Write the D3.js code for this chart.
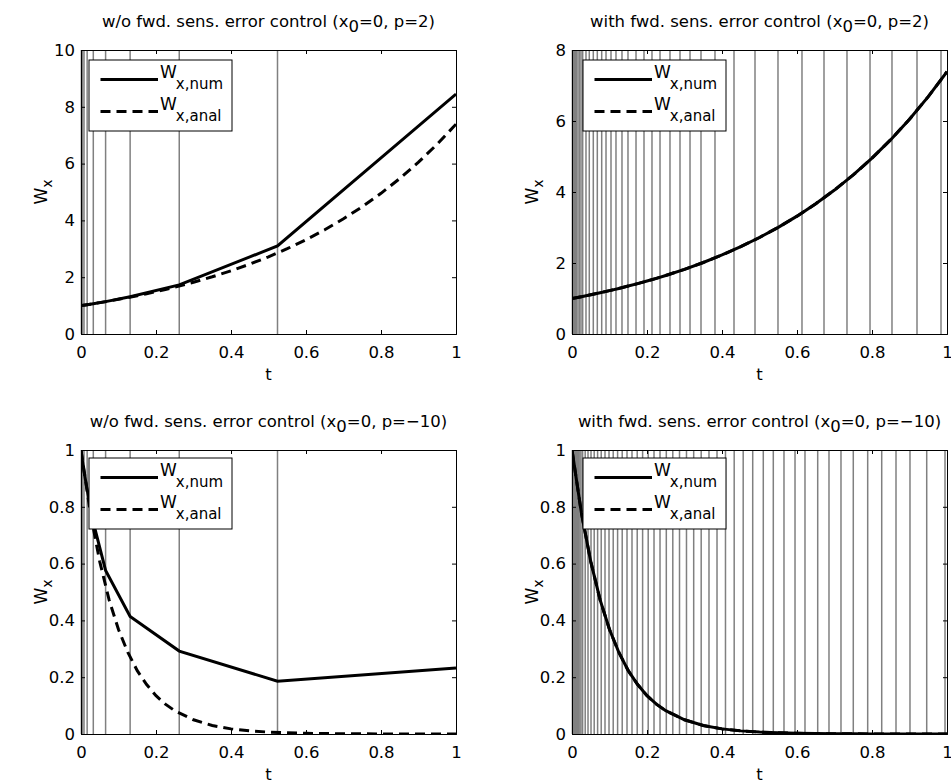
<!DOCTYPE html>
<html>
<head>
<meta charset="utf-8">
<script src="https://cdn.jsdelivr.net/npm/d3@7"></script>
<style>
  body { margin: 0; background: #fff; }
  text { font-family: "DejaVu Sans", "Liberation Sans", Arial, sans-serif; fill: #000; }
</style>
</head>
<body>
<div id="chart"></div>
<script>
// ---- data ----
var xTicks = [0, 0.2, 0.4, 0.6, 0.8, 1];
var yTicksTop1 = [0, 2, 4, 6, 8, 10];
var yTicksTop2 = [0, 2, 4, 6, 8];
var yTicksBottom = [0, 0.2, 0.4, 0.6, 0.8, 1];

// step times without error control (same for p=2 and p=-10)
var stepsCoarse = [0.001, 0.002, 0.004, 0.008, 0.0164, 0.0328, 0.0656, 0.131, 0.262, 0.524];
// numerical solution at those steps
var tNumCoarse = [0, 0.002, 0.004, 0.008, 0.0164, 0.0328, 0.0656, 0.131, 0.262, 0.524, 1];
var wNumP2 = [1, 1.004, 1.008, 1.016, 1.033, 1.068, 1.14, 1.31, 1.73, 3.1, 8.45];
var wNumM10 = [1, 0.98, 0.96, 0.925, 0.86, 0.745, 0.576, 0.414, 0.292, 0.186, 0.232];

// analytical solution samples
var tAnal = [0, 0.025, 0.05, 0.075, 0.1, 0.125, 0.15, 0.175, 0.2, 0.225, 0.25, 0.3, 0.35, 0.4, 0.45,
             0.5, 0.55, 0.6, 0.65, 0.7, 0.75, 0.8, 0.85, 0.9, 0.95, 1];
var wAnalP2 = [1, 1.051, 1.105, 1.162, 1.221, 1.284, 1.350, 1.419, 1.492, 1.568, 1.649, 1.822, 2.014, 2.226, 2.460,
               2.718, 3.004, 3.320, 3.669, 4.055, 4.482, 4.953, 5.474, 6.050, 6.686, 7.389];
var wAnalM10 = [1, 0.779, 0.607, 0.472, 0.368, 0.287, 0.223, 0.174, 0.135, 0.105, 0.082, 0.050, 0.030, 0.018, 0.011,
                0.0067, 0.0041, 0.0025, 0.0015, 0.0009, 0.0006, 0.0003, 0.0002, 0.0001, 0.0001, 0.00005];

// step times with error control
var stepsFineP2 = [0.001, 0.002, 0.004, 0.006, 0.009, 0.012, 0.016, 0.02, 0.024,
                   0.0285, 0.0373, 0.0461, 0.0568, 0.0675, 0.0792, 0.0907, 0.104, 0.1173, 0.1333,
                   0.1493, 0.1707, 0.192, 0.2133, 0.2347, 0.2613, 0.288, 0.3147, 0.344, 0.3813,
                   0.432, 0.488, 0.5493, 0.6133, 0.672, 0.7333, 0.7947, 0.8533, 0.92, 0.984];
var stepsFineM10 = [0.001, 0.002, 0.003, 0.004, 0.006, 0.008, 0.01, 0.012, 0.015, 0.018, 0.021, 0.024,
                    0.0283, 0.0352, 0.0427, 0.0507, 0.0592, 0.0683, 0.0779, 0.088, 0.0987, 0.1099,
                    0.1216, 0.1339, 0.1467, 0.16, 0.1739, 0.1883, 0.2032, 0.2187, 0.2347, 0.2515,
                    0.2688, 0.2867, 0.3053, 0.3245, 0.3445, 0.3653, 0.3867, 0.4093, 0.4325, 0.4565,
                    0.4819, 0.5101, 0.5368, 0.5653, 0.5947, 0.6213, 0.6552, 0.6853, 0.7173, 0.7501,
                    0.7885, 0.8259, 0.864, 0.9013, 0.9459, 0.9947];

var titles = [
  {pre: "w/o fwd. sens. error control (x", post: "=0, p=2)"},
  {pre: "with fwd. sens. error control (x", post: "=0, p=2)"},
  {pre: "w/o fwd. sens. error control (x", post: "=0, p=\u221210)"},
  {pre: "with fwd. sens. error control (x", post: "=0, p=\u221210)"}
];

var W = 951, H = 783;
var svg = d3.select("#chart").append("svg")
    .attr("width", W)
    .attr("height", H);

var panels = [
  {left: 81, top: 50, title: titles[0], yMax: 10, yTicks: yTicksTop1, steps: stepsCoarse,
   tNum: tNumCoarse, wNum: wNumP2, wAnal: wAnalP2},
  {left: 572, top: 50, title: titles[1], yMax: 8, yTicks: yTicksTop2, steps: stepsFineP2,
   tNum: tAnal, wNum: wAnalP2, wAnal: wAnalP2},
  {left: 81, top: 450, title: titles[2], yMax: 1, yTicks: yTicksBottom, steps: stepsCoarse,
   tNum: tNumCoarse, wNum: wNumM10, wAnal: wAnalM10},
  {left: 572, top: 450, title: titles[3], yMax: 1, yTicks: yTicksBottom, steps: stepsFineM10,
   tNum: tAnal, wNum: wAnalM10, wAnal: wAnalM10}
];

var pw = 375, ph = 284;

panels.forEach(function(p, i) {
    var g = svg.append("g").attr("transform", "translate(" + p.left + "," + p.top + ")");
    var x = d3.scaleLinear().domain([0, 1]).range([0, pw]);
    var y = d3.scaleLinear().domain([0, p.yMax]).range([ph, 0]);

    g.append("clipPath").attr("id", "clip" + i)
        .append("rect").attr("width", pw).attr("height", ph);

    // step lines
    g.selectAll(".step")
        .data(p.steps)
        .enter().append("line")
        .attr("class", "step")
        .attr("x1", d => x(d)).attr("x2", d => x(d))
        .attr("y1", 0).attr("y2", ph)
        .attr("stroke", "#808080")
        .attr("stroke-width", 1.5);

    var line = d3.line()
        .x(d => x(d[0]))
        .y(d => y(d[1]));

    var plot = g.append("g").attr("clip-path", "url(#clip" + i + ")");
    plot.append("path")
        .datum(p.tNum.map((t, k) => [t, p.wNum[k]]))
        .attr("d", line)
        .attr("fill", "none")
        .attr("stroke", "#000")
        .attr("stroke-width", 3);
    plot.append("path")
        .datum(tAnal.map((t, k) => [t, p.wAnal[k]]))
        .attr("d", line)
        .attr("fill", "none")
        .attr("stroke", "#000")
        .attr("stroke-width", 3)
        .attr("stroke-dasharray", "10,6");

    // axes, ticks inside (matlab style)
    var xb = g.append("g").attr("transform", "translate(0," + ph + ")")
        .call(d3.axisBottom(x).tickValues(xTicks).tickSize(-4).tickPadding(12).tickFormat(d3.format("")));
    var xt = g.append("g")
        .call(d3.axisTop(x).tickValues(xTicks).tickSize(-4).tickFormat(""));
    var yl = g.append("g")
        .call(d3.axisLeft(y).tickValues(p.yTicks).tickSize(-4).tickPadding(6).tickFormat(d3.format("")));
    var yr = g.append("g").attr("transform", "translate(" + pw + ",0)")
        .call(d3.axisRight(y).tickValues(p.yTicks).tickSize(-4).tickFormat(""));
    [xb, xt, yl, yr].forEach(function(a) {
        a.select(".domain").attr("stroke", "#000").attr("stroke-width", 1);
        a.selectAll(".tick line").attr("stroke", "#000");
        a.selectAll(".tick text").style("font-size", "16.5px").attr("fill", "#000")
            .style("font-family", "DejaVu Sans, Liberation Sans, Arial, sans-serif");
    });

    // title
    var tt = g.append("text")
        .attr("x", pw / 2).attr("y", -23)
        .attr("text-anchor", "middle")
        .style("font-size", "16.5px");
    tt.append("tspan").text(p.title.pre);
    tt.append("tspan").attr("dy", 5).text("0");
    tt.append("tspan").attr("dy", -5).text(p.title.post);

    // axis labels
    g.append("text")
        .attr("x", pw / 2).attr("y", ph + 46)
        .attr("text-anchor", "middle")
        .style("font-size", "16.5px")
        .text("t");
    var yt = g.append("text")
        .attr("transform", "translate(-34," + (ph / 2) + ") rotate(-90)")
        .attr("text-anchor", "middle")
        .style("font-size", "17px");
    yt.append("tspan").text("W");
    yt.append("tspan").attr("dy", 5).style("font-size", "14px").text("x");

    // legend
    var lx = (i % 2 == 0) ? 8 : 11, ly = (i < 2) ? 10 : 8;
    var leg = g.append("g").attr("transform", "translate(" + lx + "," + ly + ")");
    leg.append("rect")
        .attr("width", 143).attr("height", 71)
        .attr("fill", "#fff").attr("stroke", "#000").attr("stroke-width", 1);
    var entries = [{name: "x,num", dash: null}, {name: "x,anal", dash: "10,6"}];
    entries.forEach(function(e, k) {
        var cy = 19.5 + k * 32;
        leg.append("line")
            .attr("x1", 11.5).attr("x2", 69)
            .attr("y1", cy).attr("y2", cy)
            .attr("stroke", "#000").attr("stroke-width", 3)
            .attr("stroke-dasharray", e.dash);
        var lt = leg.append("text")
            .attr("x", 71).attr("y", cy - 1.5)
            .style("font-size", "17px");
        lt.append("tspan").text("W");
        lt.append("tspan").attr("dy", 11).attr("dx", -1).style("font-size", "15px").text(e.name);
    });
});
</script>
</body>
</html>
